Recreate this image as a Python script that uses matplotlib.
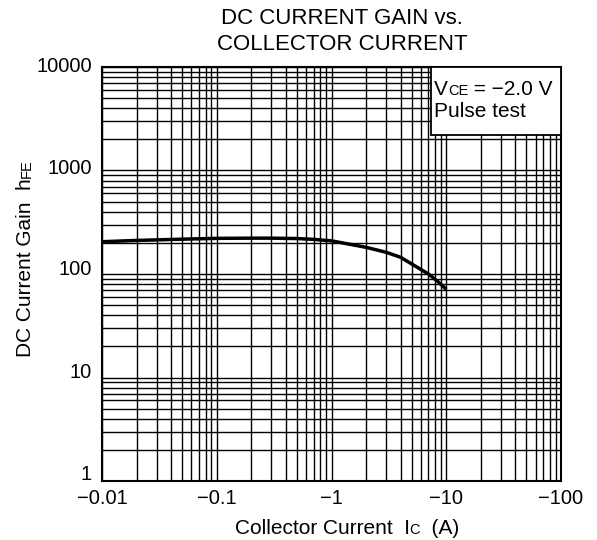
import matplotlib
matplotlib.use("Agg")
import matplotlib.pyplot as plt
from matplotlib.patches import Rectangle
from matplotlib.transforms import offset_copy
from matplotlib.ticker import FixedLocator, LogLocator, NullFormatter, FixedFormatter

plt.rcParams['font.family'] = ['Liberation Sans', 'DejaVu Sans']

# Data (collector current magnitude in A, DC current gain)
ic = [0.01, 0.02, 0.05, 0.1, 0.2, 0.3, 0.5, 0.7, 1.0, 1.3, 2.0, 3.0, 4.0, 5.0, 7.0, 8.3, 10.0]
hfe = [205, 211, 217, 221, 222, 222, 220, 216, 209, 198, 181, 162, 145, 125, 100, 86, 71]

x_ticks = [0.01, 0.1, 1, 10, 100]
x_labels = ["\u22120.01", "\u22120.1", "\u22121", "\u221210", "\u2212100"]
y_ticks = [1, 10, 100, 1000, 10000]
y_labels = ["1", "10", "100", "1000", "10000"]

W, H = 597, 540
fig = plt.figure(figsize=(W / 100, H / 100), dpi=100)
ax = fig.add_axes([102 / W, 1 - 481 / H, (561 - 102) / W, (481 - 67) / H])
ax.set_xscale('log')
ax.set_yscale('log')
ax.set_xlim(0.01, 100)
ax.set_ylim(1, 10000)

ax.xaxis.set_major_locator(FixedLocator(x_ticks))
ax.xaxis.set_major_formatter(FixedFormatter(x_labels))
ax.yaxis.set_major_locator(FixedLocator(y_ticks))
ax.xaxis.set_minor_locator(LogLocator(base=10, subs=range(2, 10), numticks=20))
ax.yaxis.set_minor_locator(LogLocator(base=10, subs=range(2, 10), numticks=20))
ax.xaxis.set_minor_formatter(NullFormatter())
ax.yaxis.set_minor_formatter(NullFormatter())
ax.tick_params(which='both', length=0, colors='black')
ax.tick_params(axis='x', labelsize=14.5, pad=6)
ax.tick_params(axis='y', labelleft=False)

# y tick labels drawn with small vertical offsets as in the original scan
y_offsets_px = [7, 5, 4, 2, 0]
for val, lab, dy in zip(y_ticks, y_labels, y_offsets_px):
    tr = offset_copy(ax.get_yaxis_transform(), fig=fig, x=-10, y=dy, units='dots')
    ax.text(0, val, lab, transform=tr, ha='right', va='center', fontsize=14.5)

ax.grid(True, which='both', color='black', linewidth=1.0)
for s in ax.spines.values():
    s.set_linewidth(1.5)
    s.set_color('black')

ax.plot(ic, hfe, color='black', linewidth=2.5, solid_capstyle='butt', zorder=3)

# Condition box
bx0, by0 = 431, 135
ax.add_patch(Rectangle(((bx0 - 102) / 459, 1 - (by0 - 67) / 414), (561 - bx0) / 459,
                       (by0 - 67) / 414, transform=ax.transAxes,
                       facecolor='white', edgecolor='black', linewidth=1.3, zorder=4))

renderer = fig.canvas.get_renderer()


def pieces_h(pieces, x_left, y_base, ha='left'):
    texts = []
    for s, fs in pieces:
        t = fig.text(0, 0, s, fontsize=fs, ha='left', va='baseline', zorder=6)
        texts.append(t)
    widths = [t.get_window_extent(renderer).width for t in texts]
    total = sum(widths)
    x = x_left - (total / 2 if ha == 'center' else 0)
    for t, w in zip(texts, widths):
        t.set_position((x / W, 1 - y_base / H))
        x += w


def pieces_v(pieces, x_base, y_center):
    texts = []
    for s, fs in pieces:
        t = fig.text(0, 0, s, fontsize=fs, ha='left', va='baseline',
                     rotation=90, rotation_mode='anchor', zorder=6)
        texts.append(t)
    lens = [t.get_window_extent(renderer).height for t in texts]
    total = sum(lens)
    y = y_center + total / 2
    for t, l in zip(texts, lens):
        t.set_position((x_base / W, 1 - y / H))
        y -= l


pieces_h([("V", 15), ("CE", 10.5), (" = \u22122.0 V", 15)], 434, 95)
pieces_h([("Pulse test", 15)], 434, 117)

pieces_h([("Collector Current  I", 15), ("C", 10.5), ("  (A)", 15)], 347, 534, ha='center')
pieces_v([("DC Current Gain  h", 15), ("FE", 10.5)], 31, 258)

fig.text(342 / W, 1 - 18 / H, "DC CURRENT GAIN vs.", ha='center', va='center', fontsize=16)
fig.text(342 / W, 1 - 45 / H, "COLLECTOR CURRENT", ha='center', va='center', fontsize=16)

fig.savefig("out.png", dpi=100, facecolor='white')
